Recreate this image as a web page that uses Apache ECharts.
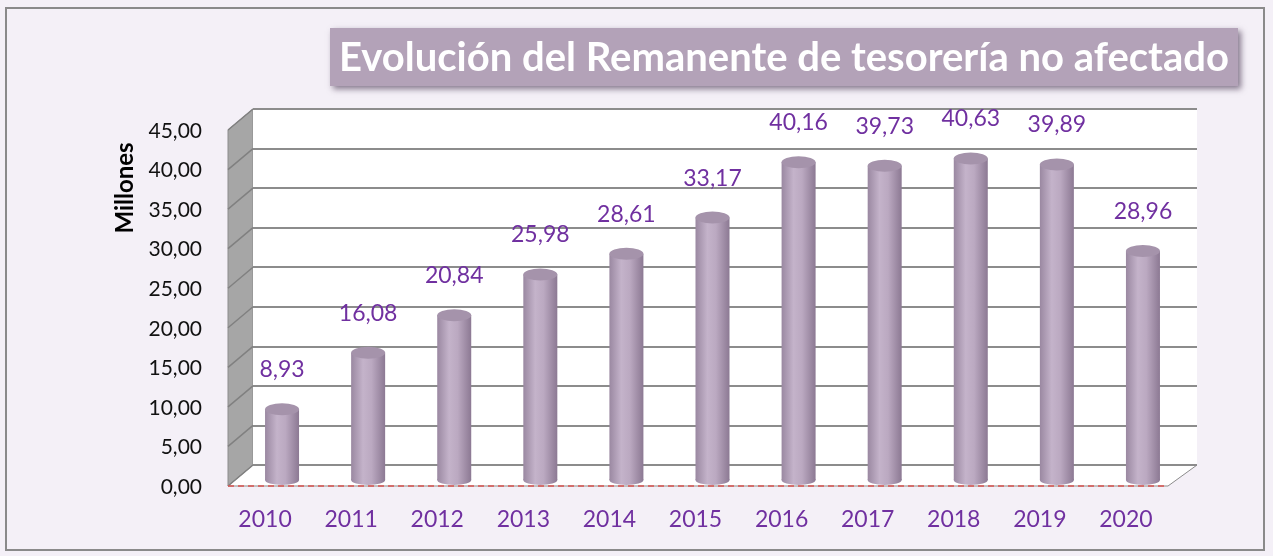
<!DOCTYPE html>
<html>
<head>
<meta charset="utf-8">
<script src="https://cdn.jsdelivr.net/npm/echarts@6/dist/echarts.min.js"></script>
<style>
  html, body { margin: 0; padding: 0; background: #f4f0f7; }
  #chart { width: 1273px; height: 556px; }
</style>
</head>
<body>
<div id="chart"></div>
<script>
// datos
const years = ['2010', '2011', '2012', '2013', '2014', '2015', '2016', '2017', '2018', '2019', '2020'];
const remanente = [8.93, 16.08, 20.84, 25.98, 28.61, 33.17, 40.16, 39.73, 40.63, 39.89, 28.96];
const yMax = 45;
const yStep = 5;

const fmt = v => v.toFixed(2).replace('.', ',');
const purple = '#7030a0';
const font = 'Lato, "Open Sans", sans-serif';

// pared del fondo (rejilla) y plano de las barras
const wall = { left: 253, right: 76, top: 109, bottom: 91 };
const front = { left: 239, right: 87, top: 124, bottom: 76 };
const W = 1273, H = 556;
const wallL = wall.left, wallR = W - wall.right, wallB = H - wall.bottom, wallT = wall.top;
const dx = 25, dy = 21;

const chart = echarts.init(document.getElementById('chart'));

const cyl = new echarts.graphic.LinearGradient(0, 0, 1, 0, [
  { offset: 0, color: '#9a88a1' },
  { offset: 0.35, color: '#c4b3ca' },
  { offset: 0.6, color: '#bba9c1' },
  { offset: 1, color: '#8c7993' }
]);

// líneas inclinadas de la pared lateral
const sideLines = [];
for (let v = 0; v <= yMax; v += yStep) {
  const y = wallB - (wallB - wallT) * v / yMax;
  sideLines.push({ type: 'line', shape: { x1: wallL - dx, y1: y + dy, x2: wallL, y2: y },
    style: { stroke: '#808080', lineWidth: 1.5 }, z: -4 });
}

chart.setOption({
  backgroundColor: '#f4f0f7',
  textStyle: { fontFamily: font },
  grid: [
    Object.assign({ show: true, backgroundColor: '#ffffff', borderWidth: 0 }, wall),
    front
  ],
  xAxis: [
    { gridIndex: 0, type: 'category', data: years, show: false },
    {
      gridIndex: 1, type: 'category', data: years,
      axisLine: { show: false }, axisTick: { show: false },
      axisLabel: { color: purple, fontSize: 23, margin: 28, padding: [0, 34, 0, 0], fontFamily: font }
    }
  ],
  yAxis: [
    {
      gridIndex: 0, type: 'value', min: 0, max: yMax, interval: yStep,
      axisLine: { show: false }, axisTick: { show: false }, axisLabel: { show: false },
      splitLine: { lineStyle: { color: '#8c8c8c', width: 2 } }
    },
    {
      gridIndex: 1, type: 'value', min: 0, max: yMax, interval: yStep,
      axisLine: { show: false }, axisTick: { show: false }, splitLine: { show: false },
      axisLabel: {
        color: '#111', fontSize: 21, margin: 37, verticalAlign: 'top', lineHeight: 14,
        fontFamily: font, formatter: fmt
      }
    }
  ],
  series: [
    {
      type: 'bar', xAxisIndex: 1, yAxisIndex: 1, data: remanente,
      barWidth: 34, itemStyle: { color: cyl }, z: 3
    },
    {
      type: 'pictorialBar', xAxisIndex: 1, yAxisIndex: 1, data: remanente,
      symbol: 'circle', symbolSize: [34, 12], symbolPosition: 'end', symbolOffset: [0, '-50%'],
      itemStyle: { color: '#a593ab' }, z: 4,
      label: {
        show: true, position: 'top', distance: 22, color: purple, fontSize: 23,
        fontFamily: font, formatter: p => fmt(p.value)
      }
    },
    {
      type: 'pictorialBar', xAxisIndex: 1, yAxisIndex: 1, data: remanente,
      symbol: 'circle', symbolSize: [34, 10], symbolPosition: 'start', symbolOffset: [0, '50%'],
      itemStyle: { color: cyl }, z: 2, silent: true
    }
  ],
  graphic: [
    // marco exterior
    { type: 'rect', shape: { x: 6, y: 8, width: 1258, height: 542 },
      style: { fill: 'none', stroke: '#8a8a8a', lineWidth: 2 }, z: -10 },
    // pared lateral
    { type: 'polygon', shape: { points: [[wallL - dx, wallT + dy], [wallL, wallT], [wallL, wallB], [wallL - dx, wallB + dy]] },
      style: { fill: '#a6a6a6', stroke: '#8c8c8c', lineWidth: 1 }, z: -5 },
    ...sideLines,
    // suelo
    { type: 'polygon', shape: { points: [[wallL - dx, wallB + dy], [wallL, wallB], [wallR, wallB], [wallR - dx - 4, wallB + dy]] },
      style: { fill: '#ffffff', stroke: '#8c8c8c', lineWidth: 1 }, z: -5 },
    { type: 'line', shape: { x1: wallL - dx, y1: wallB + dy, x2: wallR - dx - 4, y2: wallB + dy },
      style: { stroke: '#d9534f', lineWidth: 1.5, lineDash: [6, 4] }, z: -4 },
    // título
    { type: 'rect', shape: { x: 330, y: 28, width: 908, height: 58 },
      style: { fill: '#b3a2b8', shadowBlur: 6, shadowOffsetX: 3, shadowOffsetY: 3, shadowColor: 'rgba(60,40,70,0.6)' } },
    { type: 'text', x: 784, y: 58,
      style: { text: 'Evolución del Remanente de tesorería no afectado', fill: '#ffffff',
        font: 'bold 40px ' + font, align: 'center', verticalAlign: 'middle' } },
    // nombre del eje
    { type: 'text', x: 125, y: 188, rotation: Math.PI / 2,
      style: { text: 'Millones', fill: '#000', font: 'bold 24px ' + font, align: 'center', verticalAlign: 'middle' } }
  ]
});
</script>
</body>
</html>
